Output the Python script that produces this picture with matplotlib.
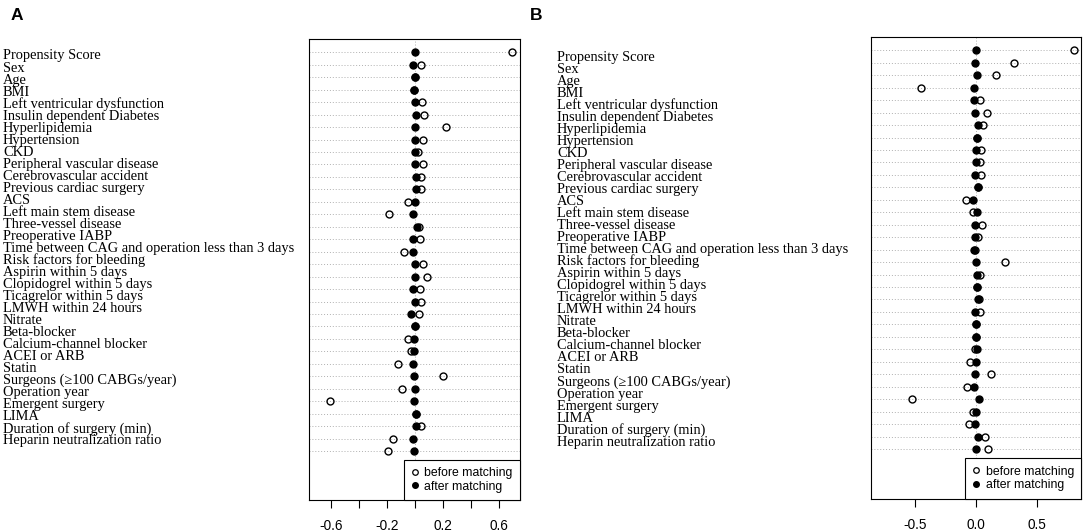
import numpy as np
import matplotlib.pyplot as plt
from matplotlib.lines import Line2D

# Covariate names, top to bottom
covariates = [
    "Propensity Score", "Sex", "Age", "BMI", "Left ventricular dysfunction",
    "Insulin dependent Diabetes", "Hyperlipidemia", "Hypertension", "CKD",
    "Peripheral vascular disease", "Cerebrovascular accident",
    "Previous cardiac surgery", "ACS", "Left main stem disease",
    "Three-vessel disease", "Preoperative IABP",
    "Time between CAG and operation less than 3 days",
    "Risk factors for bleeding", "Aspirin within 5 days",
    "Clopidogrel within 5 days", "Ticagrelor within 5 days",
    "LMWH within 24 hours", "Nitrate", "Beta-blocker",
    "Calcium-channel blocker", "ACEI or ARB", "Statin",
    "Surgeons (\u2265100 CABGs/year)", "Operation year", "Emergent surgery",
    "LIMA", "Duration of surgery (min)", "Heparin neutralization ratio",
]

# Panel A: standardized differences
a_before = [0.695, 0.043, 0.0, -0.007, 0.055, 0.067, 0.226, 0.06, 0.026,
            0.057, 0.048, 0.048, -0.048, -0.186, 0.031, 0.036, -0.074,
            0.06, 0.086, 0.04, 0.043, 0.029, 0.0, -0.048, -0.026, -0.119,
            0.2, -0.09, -0.602, 0.007, 0.043, -0.155, -0.188]
a_after = [0.005, -0.01, 0.0, -0.007, 0.0, 0.007, 0.0, 0.0, 0.003,
           0.0, 0.007, 0.007, 0.005, -0.01, 0.014, -0.01, -0.01,
           0.003, 0.0, -0.012, 0.0, -0.026, 0.0, -0.005, -0.002, -0.01,
           -0.002, 0.0, -0.007, 0.007, 0.007, -0.01, -0.007]

# Panel B: standardized differences
b_before = [0.805, 0.316, 0.165, -0.45, 0.03, 0.093, 0.055, 0.008, 0.041,
            0.03, 0.041, 0.016, -0.08, -0.022, 0.052, 0.014, -0.01,
            0.236, 0.033, 0.008, 0.022, 0.03, 0.0, -0.003, -0.006, -0.052,
            0.126, -0.077, -0.527, -0.027, -0.058, 0.077, 0.102]
b_after = [0.003, -0.008, 0.005, -0.016, -0.016, -0.005, 0.014, 0.008, 0.003,
           0.0, -0.005, 0.016, -0.022, 0.005, -0.005, -0.011, -0.019,
           0.003, 0.005, 0.005, 0.014, -0.008, 0.0, -0.003, 0.005, 0.003,
           -0.011, -0.016, 0.022, 0.0, -0.008, 0.016, 0.003]

W, H = 1084, 532
fig = plt.figure(figsize=(W / 100, H / 100), dpi=100)


def px(x0, y0, x1, y1):
    # pixel box -> figure fraction rect
    return [x0 / W, (H - y1) / H, (x1 - x0) / W, (y1 - y0) / H]


def dotpanel(rect, before, after, xlim, ylim, ticks, ticklabels,
             label_x, label_y0, label_dy, letter, letter_x):
    ax = fig.add_axes(rect)
    rows = np.arange(len(covariates))
    for r in rows:
        ax.axhline(r, color='#b0b0b0', lw=0.7, ls=(0, (1, 2)), zorder=1)
    ax.axvline(0, color='#b0b0b0', lw=0.7, ls=(0, (1, 2)), zorder=1)
    ax.plot(before, rows, 'o', ms=5, mfc='none', mec='black', mew=1.0,
            zorder=3)
    ax.plot(after, rows, 'o', ms=5, mfc='black', mec='black', mew=1.0,
            zorder=4)
    ax.set_xlim(*xlim)
    ax.set_ylim(*ylim)
    ax.set_yticks([])
    ax.set_xticks(ticks)
    ax.set_xticklabels(ticklabels, fontfamily='Liberation Sans', fontsize=9.8)
    ax.tick_params(axis='x', length=6, width=0.8, pad=8)
    for s in ax.spines.values():
        s.set_linewidth(0.8)

    handles = [
        Line2D([], [], marker='o', ls='none', ms=4, mfc='none', mec='black',
               mew=0.9, label='before matching'),
        Line2D([], [], marker='o', ls='none', ms=4, mfc='black', mec='black',
               label='after matching'),
    ]
    leg = ax.legend(handles=handles, loc='lower right', borderaxespad=0,
                    fancybox=False, framealpha=1, edgecolor='black',
                    prop={'family': 'Liberation Sans', 'size': 8.8},
                    handlelength=0.6, handletextpad=0.5, labelspacing=0.15,
                    borderpad=0.6)
    leg.get_frame().set_linewidth(0.8)

    for i, name in enumerate(covariates):
        fig.text(label_x / W, (H - (label_y0 + i * label_dy)) / H, name,
                 fontfamily='Liberation Serif', fontsize=10.4,
                 va='baseline', ha='left')
    fig.text(letter_x / W, (H - 20) / H, letter,
             fontfamily='Liberation Sans', fontweight='bold', fontsize=12.5,
             va='baseline')
    return ax


dotpanel(px(309, 39, 520, 500), a_before, a_after,
         (-0.755, 0.752), (35.93, -1.067),
         [-0.6, -0.4, -0.2, 0.0, 0.2, 0.4, 0.6],
         ['-0.6', '', '-0.2', '', '0.2', '', '0.6'],
         3, 59.5, 12.03, 'A', 11)

dotpanel(px(870.7, 37.3, 1081.3, 498.7), b_before, b_after,
         (-0.868, 0.868), (35.99, -1.043),
         [-0.5, 0.0, 0.5], ['-0.5', '0.0', '0.5'],
         557, 60.7, 12.03, 'B', 530)

fig.savefig('out.png', dpi=100)
